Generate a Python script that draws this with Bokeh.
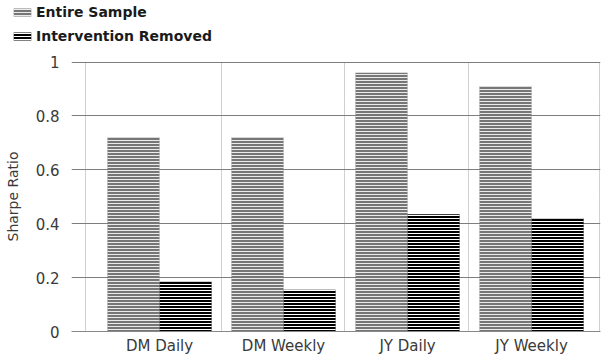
from bokeh.plotting import figure
from bokeh.layouts import column
from bokeh.models import (ColumnDataSource, FixedTicker, Legend, LegendItem,
                          Range1d)
from bokeh.embed import file_html
from bokeh.resources import INLINE

# Sharpe ratios per currency / sampling frequency
categories = ["DM Daily", "DM Weekly", "JY Daily", "JY Weekly"]
entire_sample = [0.72, 0.72, 0.96, 0.91]
intervention_removed = [0.185, 0.155, 0.435, 0.42]
y_ticks = [0, 0.2, 0.4, 0.6, 0.8, 1]
y_tick_labels = ["0", "0.2", "0.4", "0.6", "0.8", "1"]

xpos = list(range(len(categories)))
bar_w = 0.42
src = ColumnDataSource(dict(
    x_entire=[x - bar_w / 2 for x in xpos],
    x_removed=[x + bar_w / 2 for x in xpos],
    entire=entire_sample,
    removed=intervention_removed,
))

FONT = "DejaVu Sans"
TEXT = "#3a3a3a"
LEG_H = 48

ENTIRE_STYLE = dict(fill_color="#767676", line_color=None,
                    hatch_pattern="horizontal_line", hatch_color="white",
                    hatch_weight=1, hatch_scale=3, hatch_alpha=0.85)
REMOVED_STYLE = dict(fill_color="#000000", line_color=None,
                     hatch_pattern="horizontal_line", hatch_color="white",
                     hatch_weight=1, hatch_scale=3)

p = figure(width=607, height=357 - LEG_H, output_backend="svg",
           toolbar_location=None,
           x_range=Range1d(-0.71, 3.556), y_range=Range1d(0, 1.002),
           min_border_left=71, min_border_right=7, min_border_top=61 - LEG_H,
           min_border_bottom=25)
p.frame_align = False
p.outline_line_color = None
p.background_fill_color = "white"

p.vbar(x="x_entire", top="entire", width=bar_w, source=src, **ENTIRE_STYLE)
p.vbar(x="x_removed", top="removed", width=bar_w, source=src, **REMOVED_STYLE)

# axes
p.xaxis.ticker = FixedTicker(ticks=xpos)
p.xaxis.major_label_overrides = {i: c for i, c in enumerate(categories)}
p.xaxis.major_tick_line_color = None
p.xaxis.major_tick_out = 0
p.xaxis.minor_tick_line_color = None
p.xaxis.minor_tick_out = 0
p.xaxis.axis_line_color = "#888888"
p.xaxis.major_label_standoff = 5
p.xaxis.major_label_text_font = FONT
p.xaxis.major_label_text_font_size = "15px"
p.xaxis.major_label_text_color = TEXT

p.yaxis.ticker = FixedTicker(ticks=y_ticks)
p.yaxis.major_label_overrides = dict(zip(y_ticks, y_tick_labels))
p.yaxis.axis_line_color = None
p.yaxis.major_tick_line_color = None
p.yaxis.major_tick_out = 0
p.yaxis.minor_tick_line_color = None
p.yaxis.minor_tick_out = 0
p.yaxis.major_label_standoff = 12
p.yaxis.major_label_text_font = FONT
p.yaxis.major_label_text_font_size = "15px"
p.yaxis.major_label_text_color = TEXT
p.yaxis.axis_label = "Sharpe Ratio"
p.yaxis.axis_label_text_font = FONT
p.yaxis.axis_label_text_font_size = "14px"
p.yaxis.axis_label_text_font_style = "normal"
p.yaxis.axis_label_text_color = TEXT
p.yaxis.axis_label_standoff = 12

# grids: solid horizontals, dotted verticals between groups
p.ygrid.ticker = FixedTicker(ticks=y_ticks)
p.ygrid.grid_line_color = "#7e7e7e"
p.ygrid.grid_line_width = 1
p.xgrid.ticker = FixedTicker(ticks=[-0.597, 0.5, 1.49, 2.49, 3.548])
p.xgrid.grid_line_color = "#a0a0a0"
p.xgrid.grid_line_dash = "1 1"
p.xgrid.grid_line_width = 1

# legend strip above the chart; its bar renderers are hidden, only swatches show
leg = figure(width=607, height=LEG_H, output_backend="svg",
             toolbar_location=None, x_axis_location=None, y_axis_location=None,
             x_range=Range1d(-0.71, 3.556), y_range=Range1d(0, 1),
             min_border_left=0, min_border_right=0, min_border_top=0,
             min_border_bottom=0)
leg.frame_align = False
leg.outline_line_color = None
leg.xgrid.visible = False
leg.ygrid.visible = False
l1 = leg.vbar(x="x_entire", top="entire", width=bar_w, source=src,
              visible=False, **ENTIRE_STYLE)
l2 = leg.vbar(x="x_removed", top="removed", width=bar_w, source=src,
              visible=False, **REMOVED_STYLE)

legend = Legend(items=[LegendItem(label="Entire Sample", renderers=[l1]),
                       LegendItem(label="Intervention Removed", renderers=[l2])],
                location=(11, LEG_H - 44), orientation="vertical")
legend.padding = 0
legend.margin = 0
legend.spacing = 8
legend.glyph_width = 22
legend.glyph_height = 10
legend.label_standoff = 3
legend.label_height = 16
legend.label_text_font = FONT
legend.label_text_font_style = "bold"
legend.label_text_font_size = "14px"
legend.label_text_color = "#1a1a1a"
legend.border_line_color = None
legend.background_fill_alpha = 0
legend.inactive_fill_alpha = 0
leg.add_layout(legend)

layout = column(leg, p, spacing=0)
open("out.html", "w").write(file_html(layout, INLINE))
